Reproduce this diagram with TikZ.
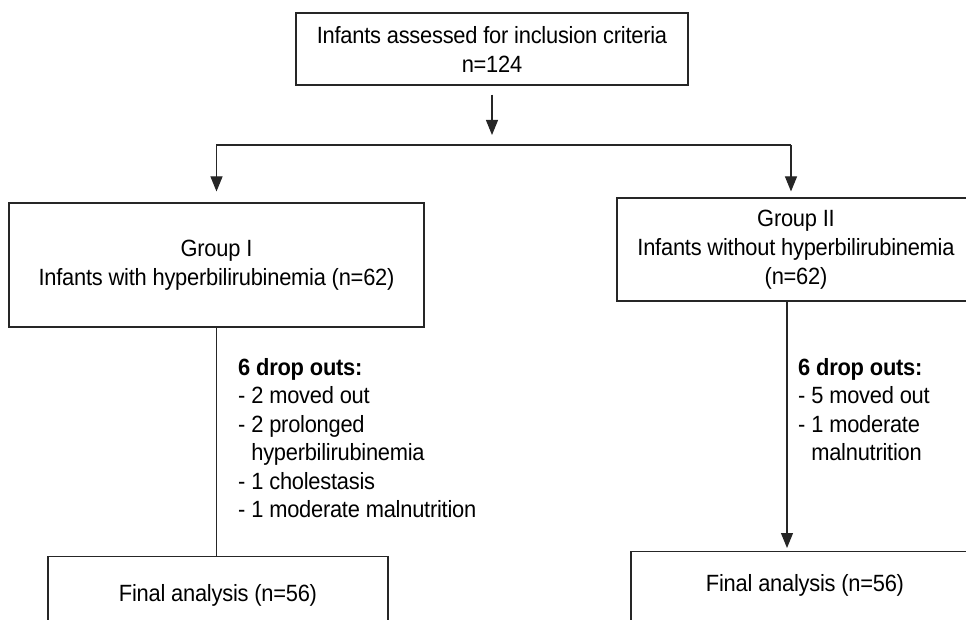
\documentclass[tikz,border=0pt]{standalone}
\usepackage{fontspec}
\setmainfont{Liberation Sans}[FakeStretch=0.93, LetterSpace=-1]
\usetikzlibrary{arrows.meta}

\tikzset{
  box/.style={draw=black!85, line width=1.1pt, inner sep=0pt, align=center, font=\fontsize{23.5}{29}\selectfont},
  finbox/.style={draw=black!85, line width=1.1pt, inner sep=0pt, anchor=north, font=\fontsize{23.5}{29}\selectfont},
  drop/.style={anchor=north west, inner sep=0pt, align=left, font=\fontsize{23.5}{28.5}\selectfont},
  arr/.style={line width=1.1pt, draw=black!85, -{Triangle[width=12pt,length=15pt]}},
  link/.style={line width=1.1pt, draw=black!85},
}

\begin{document}
\begin{tikzpicture}[x=1pt,y=-1pt]
			\useasboundingbox (0,0) rectangle (966,620);
			\clip (0,0) rectangle (966,620);
			
			\node[box, minimum width=392pt, minimum height=72pt] (assess) at (492,49) {Infants assessed for inclusion criteria\\n=124};
			\node[box, minimum width=415pt, minimum height=124pt] (grp1) at (216.5,265) {Group I\\Infants with hyperbilirubinemia (n=62)};
			\node[box, minimum width=358pt, minimum height=103pt] (grp2) at (796,249.5) {Group II\\Infants without hyperbilirubinemia\\(n=62)};
			\node[finbox, minimum width=340pt, text height=44.5pt, text depth=80pt] (fin1) at (218,556) {Final analysis (n=56)};
			\node[finbox, minimum width=348pt, text height=39.5pt, text depth=80pt] (fin2) at (805,551) {Final analysis (n=56)};
			
			\node[drop] (out1) at (238,358) {\textbf{6 drop outs:}\\- 2 moved out\\- 2 prolonged\\\hphantom{- }hyperbilirubinemia\\- 1 cholestasis\\- 1 moderate malnutrition};
			\node[drop] (out2) at (798,358) {\textbf{6 drop outs:}\\- 5 moved out\\- 1 moderate\\\hphantom{- }malnutrition};
			
			\coordinate (split) at (492,145);
			\coordinate (join2) at (791,145);
			
			\draw[arr, shorten <=9pt, shorten >=10pt] (assess) -- (split);
			\draw[arr, shorten >=11pt] (join2) -| (grp1.north);
			\draw[arr, shorten >=6pt] (join2) -- (join2 |- grp2.north);
			\draw[link] (grp1) -- (grp1 |- fin1.north);
			\draw[arr, shorten >=3pt] ([xshift=-9pt]grp2.south) -- ([xshift=-9pt]grp2.south |- fin2.north);
\end{tikzpicture}
\end{document}
